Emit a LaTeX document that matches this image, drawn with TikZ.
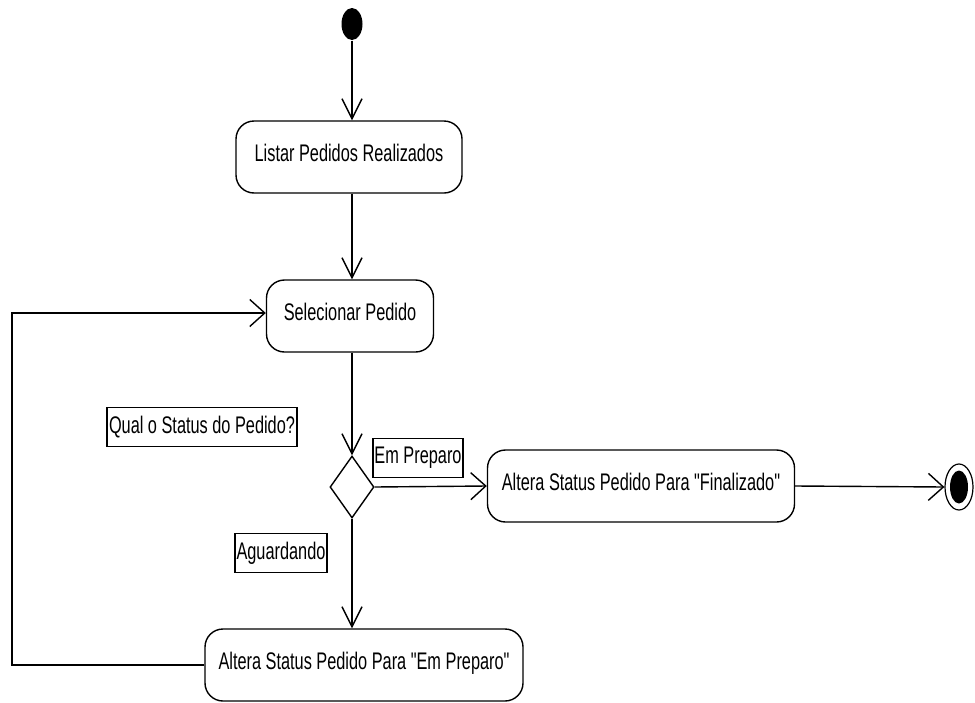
\documentclass[tikz,border=0pt]{standalone}
\usepackage{fontspec}
\setmainfont[FakeStretch=0.68,Ligatures=TeXOff]{Liberation Sans}
\usetikzlibrary{arrows.meta,shapes.geometric}
\begin{document}
\begin{tikzpicture}[x=0.5pt,y=-0.5pt,
  line width=0.7pt,
  every node/.style={font=\fontsize{12}{14}\selectfont},
  activity/.style={draw, rectangle, rounded corners=9pt, minimum height=36pt, inner sep=0pt,
    text height=9pt, text depth=5pt},
  guard/.style={draw, line width=0.6pt, rectangle, inner sep=0pt, minimum height=19.5pt},
  varr/.style={-{Straight Barb[length=10pt,width=10pt]}},
  harr/.style={-{Straight Barb[length=7.5pt,width=13.5pt]}},
]
\useasboundingbox (0,0) rectangle (975,702);

% initial and final states
\node[ellipse, fill, minimum width=10.5pt, minimum height=16pt, inner sep=0pt] (start) at (352,24) {};
\node[ellipse, draw, line width=0.6pt, minimum width=14pt, minimum height=23pt, inner sep=0pt] (end) at (959,487) {};
\node[ellipse, fill, minimum width=9pt, minimum height=16.5pt, inner sep=0pt] (endin) at (end) {};

% activities
\node[activity, minimum width=113pt] (listar) at (349,157) {Listar Pedidos Realizados};
\node[activity, minimum width=83.5pt] (sel) at (350,316) {Selecionar Pedido};
\node[draw, diamond, aspect=0.71, minimum width=22pt, minimum height=31pt, inner sep=0pt] (dec) at (352,487) {};
\node[activity, minimum width=153.5pt] (fin) at (641,486) {Altera Status Pedido Para "Finalizado"};
\node[activity, minimum width=159pt] (prep) at (364,665) {Altera Status Pedido Para "Em Preparo"};

% guard labels
\node[guard, minimum width=95pt] (q) at (202,427) {Qual o Status do Pedido?};
\node[guard, minimum width=45pt] (ep) at (418,458) {Em Preparo};
\node[guard, minimum width=46pt] (ag) at (281,553) {Aguardando};

% flows
\coordinate (back) at (12,313);
\draw[varr] (start.south) -- (start.south |- listar.north);
\draw[varr] (listar.south -| start) -- (sel.north -| start);
\draw[varr] (sel.south -| start) -- (dec.north);
\draw[harr] (dec.east) -- (fin.west);
\draw[harr] (fin.east) -- (end.west);
\draw[varr] (dec.south) -- (dec.south |- prep.north);
\draw[harr] (prep.west) -| (back) -- (sel.west |- back);
\end{tikzpicture}
\end{document}
